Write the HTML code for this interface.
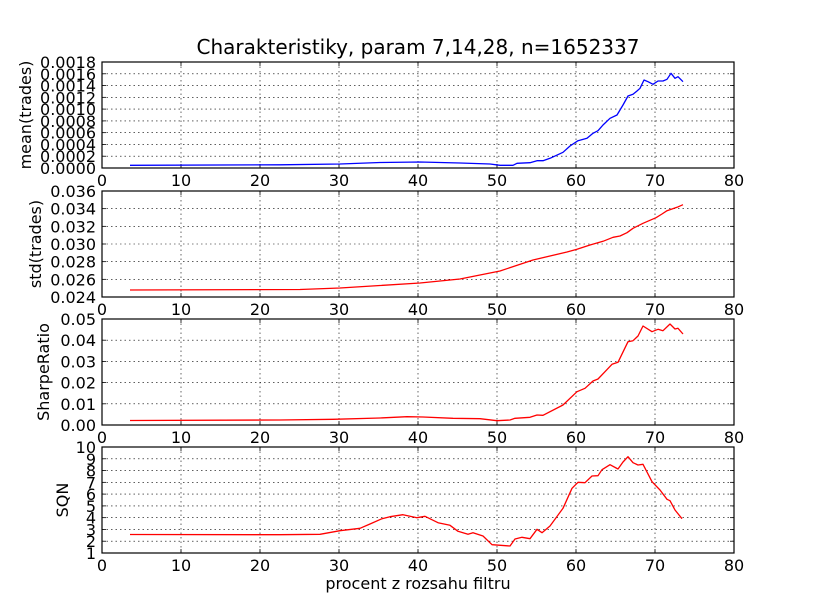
<!DOCTYPE html>
<html><head><meta charset="utf-8"><style>
html,body{margin:0;padding:0;background:#fff;}
svg{display:block;font-family:"DejaVu Sans","Liberation Sans",sans-serif;}
</style></head><body>
<svg id="s" width="815" height="615" viewBox="0 0 815 615" xmlns="http://www.w3.org/2000/svg">
<rect width="815" height="615" fill="#fff"/>
<text x="418" y="54" font-size="20" text-anchor="middle">Charakteristiky, param 7,14,28, n=1652337</text>
<text x="418" y="589" font-size="16" text-anchor="middle">procent z rozsahu filtru</text>
</svg>
<script>
var s=document.getElementById('s'),NS='http://www.w3.org/2000/svg';
function el(t,a,txt){var e=document.createElementNS(NS,t);for(var k in a)e.setAttribute(k,a[k]);if(txt!==undefined)e.textContent=txt;s.appendChild(e);return e;}
var L=102,R=734;
var panels=[
 {t:62,b:168,labels:['0.0000','0.0002','0.0004','0.0006','0.0008','0.0010','0.0012','0.0014','0.0016','0.0018'],name:'mean(trades)',nx:31,color:'#0000ff',
  pts:[[130,165.3],[280,164.8],[340,164],[380,162.5],[420,162],[460,163],[490,164],[500,165.3],[513,165.3],[517,163.3],[530,162.7],[537,160.7],[543,160.7],[550,158.3],[563,152.3],[570,146],[578,140.7],[587,138.3],[593,133.3],[598,130.7],[603,125],[610,118.3],[617,115],[623,105],[628,96],[633,94.3],[637,91],[640,88.3],[644,80],[648,81.7],[653,84.3],[658,81],[663,81],[667,79.3],[671,73.3],[675,78.3],[678,76.7],[683,81.7]]},
 {t:191,b:297,labels:['0.024','0.026','0.028','0.030','0.032','0.034','0.036'],name:'std(trades)',nx:41,color:'#ff0000',
  pts:[[130,290],[300,289.5],[340,288],[380,285.5],[420,283],[460,279],[500,271],[533,260],[567,252],[577,249.3],[590,245],[603,241.3],[613,237.3],[620,236],[627,232.7],[633,228.3],[643,223.3],[656,217.7],[662,214],[667,210.7],[677,207.3],[683,204.7]]},
 {t:319,b:425,labels:['0.00','0.01','0.02','0.03','0.04','0.05'],name:'SharpeRatio',nx:49,color:'#ff0000',
  pts:[[130,420.5],[280,420],[333,419.3],[380,418],[407,416.7],[423,417],[453,418.3],[480,418.7],[497,420.7],[510,420],[515,418.3],[530,417.3],[537,415],[543,415.3],[563,405],[577,391.7],[585,388.3],[593,381],[598,379],[605,371.7],[612,364.3],[618,362.3],[628,341.7],[633,340.7],[638,336],[643,326],[652,331.7],[658,329.3],[663,330.7],[670,324],[675,329],[678,328.3],[683,334]]},
 {t:447,b:553,labels:['1','2','3','4','5','6','7','8','9','10'],name:'SQN',nx:68,color:'#ff0000',
  pts:[[130,534.5],[280,534.7],[320,534.3],[340,530.7],[360,528.3],[370,524],[382,518.7],[390,516.7],[403,514.7],[417,517.7],[425,516.3],[438,522.7],[450,525.3],[458,531.3],[468,534.3],[473,532.7],[483,536],[492,544.7],[510,546],[515,539],[522,537.3],[530,538.7],[537,529.3],[542,532.7],[550,526],[563,508.3],[572,488.3],[578,482.3],[585,482.7],[592,476],[598,475.7],[602,469.7],[610,464.7],[618,469],[623,462],[628,456.7],[633,462.7],[638,465],[643,464.3],[652,481.7],[660,490],[667,499.3],[670,500.7],[675,510],[682,518.7]]}
];
panels.forEach(function(p,pi){
 var n=p.labels.length,h=p.b-p.t;
 for(var i=0;i<=8;i++){var x=L+i*(R-L)/8;
  if(i>0&&i<8)el('line',{x1:x,y1:p.t,x2:x,y2:p.b,stroke:'#000','stroke-width':0.6,'stroke-dasharray':'1.5,3'});
  el('line',{x1:x,y1:p.b,x2:x,y2:p.b-4,stroke:'#000','stroke-width':0.8});
  el('line',{x1:x,y1:p.t,x2:x,y2:p.t+4,stroke:'#000','stroke-width':0.8});
  el('text',{x:x,y:p.b+18,'font-size':16,'text-anchor':'middle'},String(i*10));
 }
 for(var j=0;j<n;j++){var y=p.b-j*h/(n-1);
  if(j>0&&j<n-1)el('line',{x1:L,y1:y,x2:R,y2:y,stroke:'#000','stroke-width':0.6,'stroke-dasharray':'1.5,3'});
  el('line',{x1:L,y1:y,x2:L+4,y2:y,stroke:'#000','stroke-width':0.8});
  el('line',{x1:R,y1:y,x2:R-4,y2:y,stroke:'#000','stroke-width':0.8});
  el('text',{x:96,y:y+6,'font-size':16,'text-anchor':'end'},p.labels[j]);
 }
 el('polyline',{points:p.pts.map(function(q){return q.join(',')}).join(' '),fill:'none',stroke:p.color,'stroke-width':1.3,'stroke-linejoin':'round'});
 el('rect',{x:L,y:p.t,width:R-L,height:h,fill:'none',stroke:'#000','stroke-width':1.2});
 var cy=(p.t+p.b)/2;
 el('text',{x:p.nx,y:cy,'font-size':16,'text-anchor':'middle',transform:'rotate(-90 '+p.nx+' '+cy+')'},p.name);
});
</script>
</body></html>
